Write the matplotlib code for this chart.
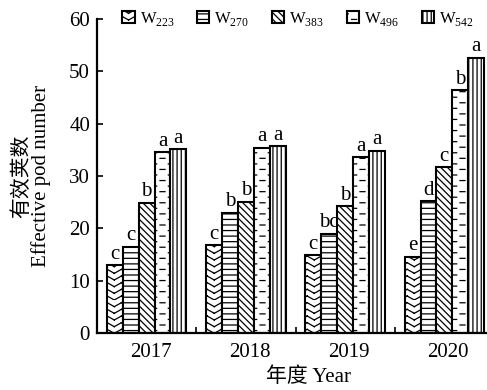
import warnings
import numpy as np
import matplotlib
matplotlib.use('Agg')
import matplotlib.pyplot as plt
import matplotlib.transforms as mtransforms
from matplotlib import hatch as mhatch
from matplotlib.path import Path

warnings.filterwarnings('ignore', category=matplotlib.MatplotlibDeprecationWarning)

years = ['2017', '2018', '2019', '2020']
series = ['W$_{\\mathregular{223}}$', 'W$_{\\mathregular{270}}$', 'W$_{\\mathregular{383}}$',
          'W$_{\\mathregular{496}}$', 'W$_{\\mathregular{542}}$']

w223 = [13.0, 16.8, 14.9, 14.6]
w270 = [16.5, 23.0, 19.0, 25.2]
w383 = [24.9, 25.1, 24.2, 31.7]
w496 = [34.6, 35.4, 33.6, 46.4]
w542 = [35.1, 35.7, 34.8, 52.6]

sig223 = ['c', 'c', 'c', 'e']
sig270 = ['c', 'b', 'bc', 'd']
sig383 = ['b', 'b', 'b', 'c']
sig496 = ['a', 'a', 'a', 'b']
sig542 = ['a', 'a', 'a', 'a']


# extra hatch styles: '^' = stacked chevrons, '=' = staggered short dashes
# (every stroke is its own two-point subpath so agg does not fill it)
class ChevronHatch(mhatch.HatchPatternBase):
    def __init__(self, hatch, density):
        self.num_rows = int(hatch.count('^') * density * 1.25)
        self.num_cols = self.num_rows // 2
        self.num_vertices = self.num_rows * self.num_cols * 4

    def set_vertices_and_codes(self, vertices, codes):
        dx = 1.0 / self.num_cols
        dy = 1.0 / self.num_rows
        k = 0
        for i in range(self.num_rows):
            y = i * dy
            for j in range(self.num_cols):
                x0 = j * dx
                vertices[k:k + 4] = [(x0, y), (x0 + dx / 2, y + 0.6 * dy),
                                     (x0 + dx / 2, y + 0.6 * dy), (x0 + dx, y)]
                codes[k:k + 4] = [Path.MOVETO, Path.LINETO, Path.MOVETO, Path.LINETO]
                k += 4


class DashHatch(mhatch.HatchPatternBase):
    def __init__(self, hatch, density):
        self.num_rows = int(hatch.count('=') * density)
        self.num_cols = self.num_rows // 3
        self.num_vertices = self.num_rows * self.num_cols * 2

    def set_vertices_and_codes(self, vertices, codes):
        dx = 1.0 / self.num_cols
        dy = 1.0 / self.num_rows
        k = 0
        for i in range(self.num_rows):
            y = (i + 0.5) * dy
            shift = (i % 2) * 0.5 * dx
            for j in range(self.num_cols):
                x0 = j * dx + shift + 0.1 * dx
                vertices[k] = (x0, y)
                vertices[k + 1] = (x0 + 0.3 * dx, y)
                codes[k] = Path.MOVETO
                codes[k + 1] = Path.LINETO
                k += 2


mhatch._hatch_types.extend([ChevronHatch, DashHatch])

plt.rcParams['font.family'] = ['Liberation Serif', 'Noto Sans CJK SC']
plt.rcParams['mathtext.fontset'] = 'custom'
plt.rcParams['mathtext.rm'] = 'Liberation Serif'
plt.rcParams['hatch.linewidth'] = 0.9
plt.rcParams['hatch.color'] = 'black'

fig = plt.figure(figsize=(4.87, 3.9), dpi=100)
ax = fig.add_axes([97 / 487, 57 / 390, 397 / 487, 314 / 390])

values = [w223, w270, w383, w496, w542]
sigs = [sig223, sig270, sig383, sig496, sig542]
hatches = ['^^', '---', '\\\\\\\\\\', '===', '||||']

x = np.arange(len(years))
width = 0.16
for k, (vals, sig, h, name) in enumerate(zip(values, sigs, hatches, series)):
    pos = x + (k - 2) * width
    bars = ax.bar(pos, vals, width, color='white', edgecolor='black',
                  linewidth=1.5, hatch=h, label=name)
    for b, s in zip(bars, sig):
        ax.annotate(s, (b.get_x() + b.get_width() / 2, b.get_height()),
                    xytext=(0, 1), textcoords='offset points',
                    ha='center', va='bottom', fontsize=15)

ax.set_xlim(-0.5, 3.5)
ax.set_ylim(0, 60)
ax.set_yticks(np.arange(0, 61, 10))
ax.set_xticks(x)
ax.set_xticklabels(years)
ax.set_xticks(x[:-1] + 0.5, minor=True)
ax.tick_params(axis='x', which='major', length=0, pad=7, labelsize=15)
ax.tick_params(axis='x', which='minor', direction='in', length=4, width=1.2)
ax.tick_params(axis='y', direction='in', length=4, width=1.2, pad=5, labelsize=15)

# year labels sit a little right of the group centres
shift = mtransforms.ScaledTranslation(0.04, 0, fig.dpi_scale_trans)
for lbl in ax.get_xticklabels():
    lbl.set_transform(lbl.get_transform() + shift)

for side in ['top', 'right']:
    ax.spines[side].set_visible(False)
for side in ['left', 'bottom']:
    ax.spines[side].set_linewidth(1.6)

ax.set_ylabel('有效荚数\nEffective pod number', fontsize=15, linespacing=0.95)
ax.yaxis.set_label_coords(-(97 - 51) / 397, 0.5)
ax.set_xlabel('年度 Year', fontsize=15)
ax.xaxis.set_label_coords((309 - 97) / 397, -0.108)

fig.legend(loc='center left', bbox_to_anchor=(122 / 487, 1 - 19 / 390), ncol=5,
           frameon=False, fontsize=12, handlelength=0.75, handleheight=0.75,
           handletextpad=0.3, columnspacing=1.35, borderpad=0, borderaxespad=0)

fig.savefig('out.png', dpi=100)
